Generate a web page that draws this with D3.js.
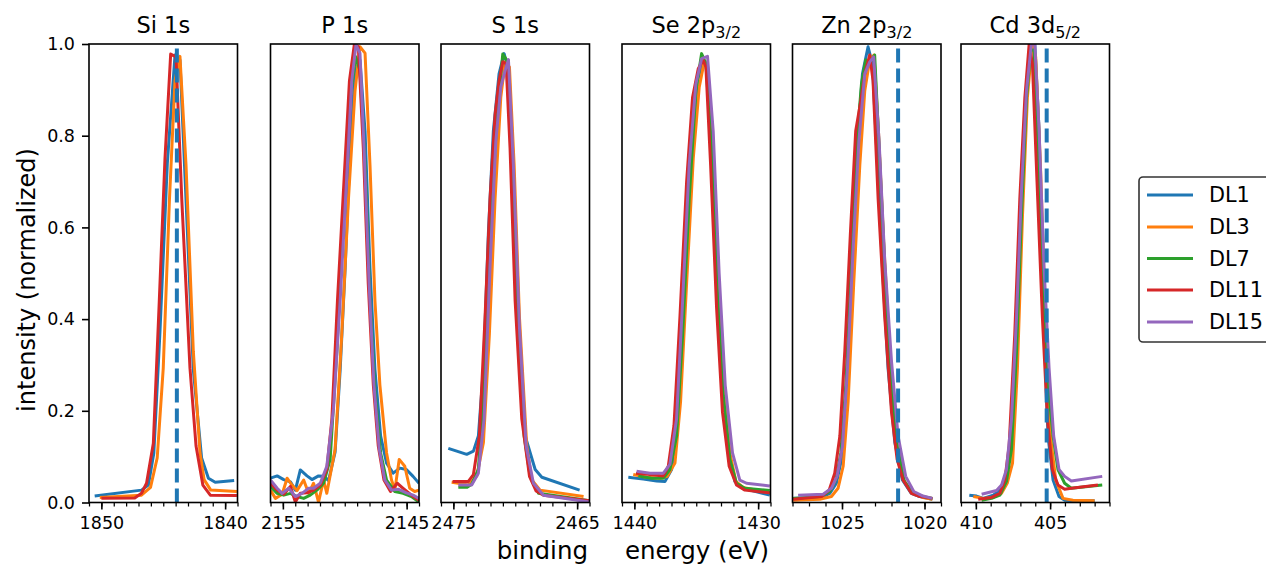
<!DOCTYPE html>
<html>
<head>
<meta charset="utf-8">
<script src="https://cdn.jsdelivr.net/npm/d3@7"></script>
<style>
  body { margin: 0; background: #fff; }
  text { font-family: "DejaVu Sans", sans-serif; fill: #000; }
</style>
</head>
<body>
<svg id="chart" width="1266" height="564"></svg>
<script>
// series and panel definitions
const seriesNames = ['DL1', 'DL3', 'DL7', 'DL11', 'DL15'];
const seriesColors = ['#1f77b4', '#ff7f0e', '#2ca02c', '#d62728', '#9467bd'];
const panelTitles = [['Si 1s', ''], ['P 1s', ''], ['S 1s', ''], ['Se 2p', '3/2'], ['Zn 2p', '3/2'], ['Cd 3d', '5/2']];
const panelDomains = [[1851, 1839], [2156, 2144], [2476, 2464], [1441, 1429], [1028, 1019], [411, 401]];
const xTickValues = [[1850, 1840], [2155, 2145], [2475, 2465], [1440, 1430], [1025, 1020], [410, 405]];
const refLines = [1843.9, null, null, null, 1021.6, 405.23];
const yTicks = [0, 0.2, 0.4, 0.6, 0.8, 1.0];

// [binding energy (eV), normalized intensity]
const si1s = {
  DL1: [[1850.54,.014],[1846.76,.027],[1846.2,.038],[1845.76,.108],[1845.27,.37],[1844.67,.74],[1844.05,.976],[1843.65,.965],[1843.16,.66],[1842.57,.29],[1841.9,.097],[1841.35,.053],[1840.8,.044],[1839.27,.048]],
  DL3: [[1850.13,.011],[1846.76,.016],[1846.03,.033],[1845.49,.097],[1845.0,.293],[1844.5,.66],[1844.05,.92],[1843.65,.973],[1843.16,.736],[1842.57,.33],[1842.03,.108],[1841.7,.05],[1841.16,.027],[1839.05,.024]],
  DL11: [[1850.0,.009],[1847.3,.010],[1846.76,.02],[1846.35,.042],[1845.8,.129],[1845.32,.44],[1844.86,.75],[1844.4,.978],[1843.97,.972],[1843.5,.66],[1842.84,.293],[1842.35,.123],[1841.8,.038],[1841.2,.016],[1839.05,.015]]
};
const p1s = {
  DL1: [[2156.0,.053],[2155.46,.058],[2154.93,.05],[2154.39,.045],[2153.99,.027],[2153.59,.071],[2153.05,.058],[2152.65,.05],[2152.12,.058],[2151.71,.057],[2151.31,.048],[2150.78,.11],[2150.37,.29],[2149.97,.51],[2149.57,.77],[2149.17,.94],[2148.77,.965],[2148.36,.81],[2147.96,.51],[2147.56,.29],[2147.1,.145],[2146.62,.086],[2146.09,.064],[2145.55,.075],[2145.02,.072],[2144.48,.057],[2144.0,.042]],
  DL3: [[2156.0,.027],[2155.6,.009],[2155.06,.018],[2154.66,.053],[2154.26,.038],[2153.86,.026],[2153.32,.049],[2152.92,.02],[2152.52,.042],[2152.12,.001],[2151.71,.049],[2151.45,.02],[2150.78,.116],[2150.24,.367],[2149.7,.662],[2149.17,.898],[2148.77,.994],[2148.36,.98],[2147.96,.736],[2147.56,.44],[2147.16,.256],[2146.62,.108],[2146.22,.049],[2145.95,.027],[2145.6,.094],[2145.15,.079],[2144.75,.031],[2144.35,.024],[2144.0,.027]],
  DL7: [[2156.0,.035],[2155.46,.02],[2154.93,.016],[2154.39,.02],[2153.86,.013],[2153.32,.009],[2152.79,.016],[2152.25,.027],[2151.71,.042],[2151.18,.094],[2150.64,.33],[2150.11,.625],[2149.57,.883],[2149.11,.972],[2148.77,.942],[2148.36,.736],[2147.96,.44],[2147.56,.241],[2147.1,.108],[2146.62,.049],[2145.95,.024],[2145.28,.02],[2144.61,.013],[2144.0,.001]],
  DL11: [[2156.0,.042],[2155.46,.027],[2154.93,.018],[2154.39,.035],[2153.99,.001],[2153.59,.02],[2153.05,.021],[2152.52,.027],[2151.98,.038],[2151.45,.072],[2151.04,.182],[2150.59,.44],[2150.11,.677],[2149.62,.92],[2149.22,1.0],[2148.9,.994],[2148.5,.773],[2148.1,.477],[2147.69,.256],[2147.29,.123],[2146.83,.049],[2146.3,.024],[2145.76,.042],[2145.28,.031],[2144.61,.016],[2144.0,.005]],
  DL15: [[2156.0,.049],[2155.46,.031],[2155.06,.02],[2154.53,.031],[2153.99,.013],[2153.45,.02],[2152.92,.031],[2152.52,.031],[2151.98,.042],[2151.45,.079],[2150.91,.204],[2150.37,.44],[2149.89,.684],[2149.43,.92],[2149.09,.998],[2148.77,.98],[2148.44,.773],[2148.02,.47],[2147.64,.256],[2147.21,.116],[2146.76,.049],[2146.22,.027],[2145.68,.029],[2145.02,.021],[2144.48,.016],[2144.0,.009]]
};
const s1s = {
  DL1: [[2475.41,.118],[2473.92,.105],[2473.38,.112],[2472.98,.145],[2472.57,.293],[2472.17,.588],[2471.77,.81],[2471.31,.935],[2470.9,.979],[2470.55,.942],[2470.15,.699],[2469.74,.367],[2469.2,.145],[2468.39,.072],[2467.85,.055],[2464.8,.027]],
  DL3: [[2475.14,.044],[2474.6,.042],[2473.79,.038],[2473.11,.058],[2472.57,.131],[2472.09,.367],[2471.63,.662],[2471.17,.883],[2470.82,.961],[2470.47,.95],[2470.09,.736],[2469.66,.404],[2469.07,.123],[2468.66,.049],[2467.99,.027],[2464.48,.013]],
  DL7: [[2474.6,.033],[2473.92,.033],[2473.52,.04],[2472.98,.072],[2472.52,.256],[2472.04,.551],[2471.6,.787],[2471.23,.913],[2471.01,.978],[2470.69,.965],[2470.28,.751],[2469.82,.426],[2469.28,.145],[2468.8,.057],[2468.12,.02],[2464.0,.004]],
  DL11: [[2475.06,.046],[2473.79,.046],[2473.38,.061],[2472.9,.145],[2472.44,.404],[2472.04,.662],[2471.63,.846],[2471.31,.92],[2471.01,.961],[2470.74,.957],[2470.42,.773],[2470.01,.44],[2469.47,.182],[2468.85,.057],[2468.31,.025],[2467.72,.016],[2464.0,.004]],
  DL15: [[2474.6,.038],[2473.52,.038],[2472.98,.064],[2472.52,.182],[2472.04,.514],[2471.57,.787],[2471.17,.906],[2470.82,.942],[2470.55,.966],[2470.15,.736],[2469.66,.382],[2469.12,.123],[2468.53,.042],[2467.72,.016],[2464.0,.001]]
};
const se2p = {
  DL1: [[1440.49,.055],[1439.28,.051],[1438.2,.047],[1437.53,.046],[1436.99,.072],[1436.45,.182],[1435.92,.44],[1435.38,.736],[1434.92,.92],[1434.44,.961],[1434.17,.957],[1433.76,.81],[1433.31,.514],[1432.82,.256],[1432.34,.108],[1431.88,.046],[1431.21,.031],[1429.06,.016]],
  DL3: [[1440.09,.061],[1439.01,.055],[1437.93,.053],[1437.34,.057],[1436.72,.086],[1436.27,.219],[1435.78,.477],[1435.24,.751],[1434.76,.906],[1434.36,.961],[1434.11,.961],[1433.68,.795],[1433.23,.5],[1432.77,.256],[1432.28,.108],[1431.8,.046],[1431.21,.033],[1429.06,.021]],
  DL7: [[1439.68,.058],[1438.61,.053],[1437.66,.053],[1437.13,.072],[1436.59,.145],[1436.1,.367],[1435.57,.662],[1435.03,.898],[1434.57,.979],[1434.22,.957],[1433.76,.773],[1433.31,.47],[1432.82,.234],[1432.28,.094],[1431.75,.042],[1431.07,.031],[1429.06,.026]],
  DL11: [[1439.87,.064],[1438.74,.061],[1437.66,.058],[1437.26,.079],[1436.8,.168],[1436.32,.404],[1435.78,.699],[1435.3,.883],[1434.84,.946],[1434.44,.965],[1434.22,.95],[1433.84,.736],[1433.36,.426],[1432.88,.197],[1432.34,.079],[1431.75,.038],[1431.07,.027],[1429.06,.021]],
  DL15: [[1439.82,.068],[1438.74,.064],[1437.66,.064],[1437.13,.083],[1436.59,.182],[1436.1,.44],[1435.57,.736],[1435.03,.913],[1434.57,.968],[1434.09,.973],[1433.63,.81],[1433.15,.5],[1432.66,.256],[1432.07,.108],[1431.48,.049],[1430.94,.042],[1429.06,.036]]
};
const zn2p = {
  DL1: [[1027.96,.009],[1026.35,.01],[1025.74,.02],[1025.34,.042],[1025.03,.094],[1024.73,.256],[1024.43,.514],[1024.09,.773],[1023.76,.935],[1023.42,.994],[1023.16,.957],[1022.87,.751],[1022.55,.514],[1022.21,.293],[1021.8,.131],[1021.34,.049],[1020.8,.02],[1020.29,.013],[1019.52,.007]],
  DL3: [[1027.96,.005],[1026.35,.007],[1025.64,.013],[1025.24,.031],[1024.93,.079],[1024.63,.219],[1024.29,.477],[1023.92,.736],[1023.62,.898],[1023.32,.965],[1023.06,.976],[1022.79,.81],[1022.47,.566],[1022.11,.33],[1021.7,.145],[1021.26,.049],[1020.69,.02],[1020.09,.011],[1019.52,.007]],
  DL7: [[1027.96,.009],[1026.35,.013],[1025.74,.024],[1025.38,.049],[1025.07,.108],[1024.77,.256],[1024.43,.514],[1024.13,.773],[1023.82,.913],[1023.56,.965],[1023.28,.961],[1023.02,.976],[1022.75,.773],[1022.41,.514],[1022.07,.293],[1021.66,.123],[1021.22,.046],[1020.69,.02],[1020.09,.013],[1019.52,.009]],
  DL11: [[1027.96,.007],[1026.24,.013],[1025.78,.027],[1025.44,.064],[1025.13,.145],[1024.83,.33],[1024.49,.588],[1024.17,.81],[1023.86,.876],[1023.62,.935],[1023.32,.976],[1023.12,.92],[1022.81,.662],[1022.41,.404],[1022.0,.197],[1021.66,.094],[1021.3,.049],[1020.8,.02],[1020.29,.013],[1019.52,.009]],
  DL15: [[1027.66,.016],[1026.14,.018],[1025.64,.031],[1025.3,.057],[1024.97,.123],[1024.67,.293],[1024.33,.551],[1023.98,.787],[1023.62,.935],[1023.32,.961],[1023.08,.972],[1022.75,.787],[1022.41,.529],[1022.0,.308],[1021.6,.145],[1021.14,.057],[1020.65,.024],[1020.09,.014],[1019.52,.009]]
};
const cd3d = {
  DL1: [[410.44,.016],[409.95,.014],[409.5,.009],[408.83,.016],[408.38,.027],[407.98,.057],[407.6,.145],[407.26,.367],[406.93,.662],[406.59,.883],[406.26,.994],[406.03,1.0],[405.74,.81],[405.47,.44],[405.14,.145],[404.8,.049],[404.4,.013],[404.02,.005],[403.24,.004],[402.0,.004]],
  DL3: [[410.17,.013],[409.5,.009],[408.83,.011],[408.27,.02],[407.89,.042],[407.53,.086],[407.2,.293],[406.86,.625],[406.53,.883],[406.21,1.0],[405.97,.972],[405.65,.736],[405.32,.404],[404.98,.145],[404.62,.049],[404.13,.009],[403.46,.005],[402.0,.004]],
  DL7: [[409.61,.005],[408.94,.009],[408.38,.016],[407.94,.046],[407.6,.116],[407.26,.33],[406.93,.625],[406.59,.883],[406.3,.987],[406.08,.987],[405.81,.773],[405.47,.477],[405.14,.256],[404.8,.145],[404.47,.072],[404.02,.042],[403.57,.031],[401.49,.038]],
  DL11: [[409.84,.007],[408.94,.011],[408.38,.02],[408.05,.049],[407.76,.123],[407.38,.367],[407.04,.662],[406.7,.883],[406.41,1.0],[406.19,.957],[405.88,.699],[405.52,.404],[405.18,.182],[404.85,.072],[404.47,.038],[404.02,.029],[403.57,.031],[401.78,.038]],
  DL15: [[409.61,.018],[408.61,.026],[408.27,.038],[407.94,.072],[407.6,.182],[407.26,.404],[406.93,.677],[406.59,.898],[406.26,1.0],[406.03,1.0],[405.74,.81],[405.41,.514],[405.07,.293],[404.76,.145],[404.4,.072],[404.02,.057],[403.57,.047],[401.49,.057]]
};
const panelData = [si1s, p1s, s1s, se2p, zn2p, cd3d];

// layout
const panelLeft = [89, 270.5, 441, 622, 792.5, 961];
const panelWidth = 148.5;
const plotTop = 44, plotHeight = 458.5;

const svg = d3.select('#chart');
const y = d3.scaleLinear().domain([0, 1]).range([plotTop + plotHeight, plotTop]);

panelData.forEach(function(data, i) {
  const x = d3.scaleLinear().domain(panelDomains[i]).range([panelLeft[i], panelLeft[i] + panelWidth]);
  const g = svg.append('g');

  g.append('clipPath').attr('id', 'clip' + i)
    .append('rect')
    .attr('x', panelLeft[i]).attr('y', plotTop)
    .attr('width', panelWidth).attr('height', plotHeight);

  const plot = g.append('g').attr('clip-path', 'url(#clip' + i + ')');
  const line = d3.line().x(d => x(d[0])).y(d => y(d[1]));

  seriesNames.forEach(function(name, k) {
    if (!data[name]) return;
    plot.append('path')
      .attr('d', line(data[name]))
      .attr('fill', 'none')
      .attr('stroke', seriesColors[k])
      .attr('stroke-width', 3)
      .attr('stroke-linejoin', 'round');
  });

  if (refLines[i] !== null) {
    plot.append('line')
      .attr('x1', x(refLines[i])).attr('x2', x(refLines[i]))
      .attr('y1', y(0)).attr('y2', y(1))
      .attr('stroke', seriesColors[0])
      .attr('stroke-width', 4)
      .attr('stroke-dasharray', '14,6');
  }

  // minor ticks every 1 eV
  const lo = Math.min(...panelDomains[i]), hi = Math.max(...panelDomains[i]);
  const minor = d3.range(Math.ceil(lo), hi + 0.001, 1);
  const minorAxis = g.append('g')
    .attr('transform', 'translate(0,' + (plotTop + plotHeight) + ')')
    .call(d3.axisBottom(x).tickValues(minor).tickSize(4).tickFormat(''));
  minorAxis.select('.domain').remove();
  minorAxis.selectAll('line').attr('stroke-width', 1.25);

  const majorAxis = g.append('g')
    .attr('transform', 'translate(0,' + (plotTop + plotHeight) + ')')
    .call(d3.axisBottom(x).tickValues(xTickValues[i]).tickSize(7).tickPadding(7).tickFormat(d3.format('d')));
  majorAxis.select('.domain').remove();
  majorAxis.selectAll('line').attr('stroke-width', 1.6);
  majorAxis.selectAll('text').style('font-size', '17.5px').style('font-family', '"DejaVu Sans", sans-serif');

  if (i === 0) {
    const yAxis = g.append('g')
      .attr('transform', 'translate(' + panelLeft[i] + ',0)')
      .call(d3.axisLeft(y).tickValues(yTicks).tickSize(7).tickPadding(7).tickFormat(d3.format('.1f')));
    yAxis.select('.domain').remove();
    yAxis.selectAll('line').attr('stroke-width', 1.6);
    yAxis.selectAll('text').style('font-size', '17.5px').style('font-family', '"DejaVu Sans", sans-serif');
  }

  g.append('rect')
    .attr('x', panelLeft[i]).attr('y', plotTop)
    .attr('width', panelWidth).attr('height', plotHeight)
    .attr('fill', 'none').attr('stroke', '#000').attr('stroke-width', 1.6);

  const title = g.append('text')
    .attr('x', panelLeft[i] + panelWidth / 2).attr('y', 33)
    .attr('text-anchor', 'middle')
    .style('font-size', '22.5px');
  title.append('tspan').text(panelTitles[i][0]);
  if (panelTitles[i][1]) {
    title.append('tspan').attr('dy', 4.5).style('font-size', '16px').text(panelTitles[i][1]);
  }
});

// axis labels
svg.append('text')
  .attr('transform', 'translate(35,280) rotate(-90)')
  .attr('text-anchor', 'middle')
  .style('font-size', '24px')
  .text('intensity (normalized)');

svg.append('text').attr('x', 588).attr('y', 559)
  .attr('text-anchor', 'end').style('font-size', '24.5px').text('binding');
svg.append('text').attr('x', 697).attr('y', 559)
  .attr('text-anchor', 'middle').style('font-size', '24.5px').text('energy (eV)');

// legend
const legend = svg.append('g');
legend.append('rect')
  .attr('x', 1139).attr('y', 177).attr('width', 140).attr('height', 165)
  .attr('rx', 4).attr('fill', '#fff').attr('stroke', '#333').attr('stroke-width', 1.6);
const legendRows = [195, 227, 258.5, 290, 322];
seriesNames.forEach(function(name, k) {
  legend.append('line')
    .attr('x1', 1147).attr('x2', 1193)
    .attr('y1', legendRows[k]).attr('y2', legendRows[k])
    .attr('stroke', seriesColors[k]).attr('stroke-width', 3);
  legend.append('text')
    .attr('x', 1209).attr('y', legendRows[k]).attr('dy', '0.36em')
    .style('font-size', '20.8px').text(name);
});
</script>
</body>
</html>
